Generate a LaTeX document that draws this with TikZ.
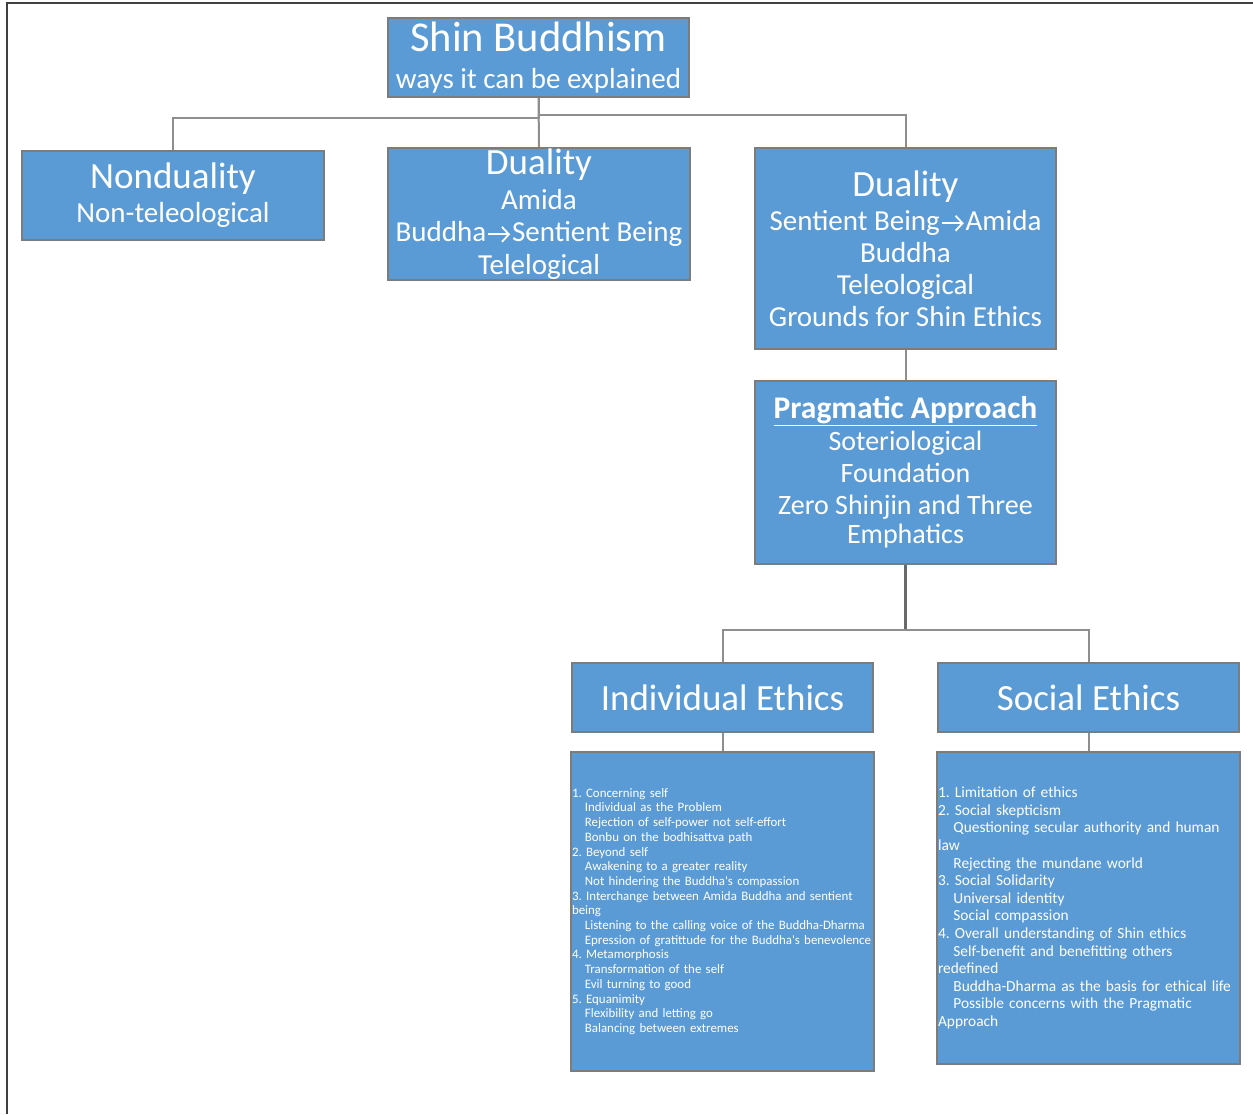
\documentclass[tikz,border=0pt]{standalone}
\usepackage{fontspec}
\setmainfont{Carlito}
\usepackage{xcolor}
\usetikzlibrary{positioning,calc,arrows.meta}
\definecolor{boxblue}{HTML}{5B9BD5}
\definecolor{boxedge}{HTML}{7C7C7C}
\definecolor{linkgray}{HTML}{8E8E8E}
\definecolor{framegray}{HTML}{404040}
\frenchspacing
\newcommand{\toarrow}{\hspace{1pt}\tikz[baseline={(0pt,-7pt)}]\draw[white,line width=1.8pt,-{Straight Barb[length=7pt,width=15pt]}] (0pt,0pt) -- (22pt,0pt);\hspace{1pt}}

\begin{document}
\begin{tikzpicture}[x=1pt,y=-1pt,
  box/.style={draw=boxedge,line width=2pt,fill=boxblue,text=white,align=center,inner sep=0pt},
  head/.style={box,font=\fontsize{37}{37}\selectfont},
  body/.style={box,font=\fontsize{29}{32}\selectfont},
  lst/.style={box,align=left,text width=301pt,inner xsep=1pt},
  link/.style={draw=linkgray,line width=2pt},
  trunk/.style={draw=boxedge!85!black,line width=2.6pt}]
  \useasboundingbox (0,0) rectangle (1253,1114);
  \draw[framegray,line width=2.5pt] (7,1114) -- (7,3) -- (1253,3);
  \node[body,minimum width=301pt,minimum height=79pt] (top) at (538.5,57.5)
    {{\fontsize{42.5}{44}\selectfont Shin Buddhism}\\[5pt]ways it can be explained};
  \node[body,minimum width=302pt,minimum height=89pt] (non) at (173,195.5)
    {{\fontsize{37}{37}\selectfont Nonduality}\\[2pt]Non-teleological};
  \node[body,minimum width=302pt,minimum height=132pt] (dua1) at (539,214)
    {{\fontsize{37}{37}\selectfont Duality}\\[3pt]Amida\\Buddha\toarrow Sentient Being\\[1pt]Telelogical};
  \node[body,minimum width=301pt,minimum height=201pt] (dua2) at (905.5,248.5)
    {{\fontsize{37}{37}\selectfont Duality}\\[2pt]Sentient Being\toarrow Amida\\Buddha\\Teleological\\Grounds for Shin Ethics};
  \node[box,font=\fontsize{28}{32}\selectfont,minimum width=301pt,minimum height=183pt] (prag) at (905.5,472.5)
    {{\fontsize{31.5}{32}\selectfont\bfseries\underline{Pragmatic Approach}}\\Soteriological\\Foundation\\Zero Shinjin and Three\\[-3pt]Emphatics};
  \node[head,minimum width=301pt,minimum height=69pt] (ind) at (722.5,697.5) {Individual Ethics};
  \node[head,minimum width=301pt,minimum height=69pt] (soc) at (1088.5,697.5) {Social Ethics};
  \node[lst,minimum height=319pt,font=\fontsize{12.9}{14.7}\selectfont,below=18pt of ind] (indl)
    {1. Concerning self\\
     \quad Individual as the Problem\\
     \quad Rejection of self-power not self-effort\\
     \quad Bonbu on the bodhisattva path\\
     2. Beyond self\\
     \quad Awakening to a greater reality\\
     \quad Not hindering the Buddha\textquotesingle s compassion\\
     3. Interchange between Amida Buddha and sentient\\
     being\\
     \quad Listening to the calling voice of the Buddha-Dharma\\
     \quad Epression of gratittude for the Buddha\textquotesingle s benevolence\\
     4. Metamorphosis\\
     \quad Transformation of the self\\
     \quad Evil turning to good\\
     5. Equanimity\\
     \quad Flexibility and letting go\\
     \quad Balancing between extremes};
  \node[lst,minimum height=312pt,font=\fontsize{15.4}{17.6}\selectfont,below=18pt of soc] (socl)
    {1. Limitation of ethics\\
     2. Social skepticism\\
     \quad Questioning secular authority and human\\
     law\\
     \quad Rejecting the mundane world\\
     3. Social Solidarity\\
     \quad Universal identity\\
     \quad Social compassion\\
     4. Overall understanding of Shin ethics\\
     \quad Self-benefit and benefitting others\\
     redefined\\
     \quad Buddha-Dharma as the basis for ethical life\\
     \quad Possible concerns with the Pragmatic\\
     Approach};
  \draw[link] (top.south) -- ++(0,20) -| (non.north);
  \draw[link] (top.south) -- ++(0,17) -| (dua2.north);
  \draw[link] (top.south) -- (dua1.north);
  \draw[link] (dua2) -- (prag);
  \draw[trunk] (prag.south) -- ++(0,65) coordinate (fork);
  \draw[link] (fork) -| (ind.north);
  \draw[link] (fork) -| (soc.north);
  \draw[link] (ind) -- (indl);
  \draw[link] (soc) -- (socl);
\end{tikzpicture}
\end{document}
